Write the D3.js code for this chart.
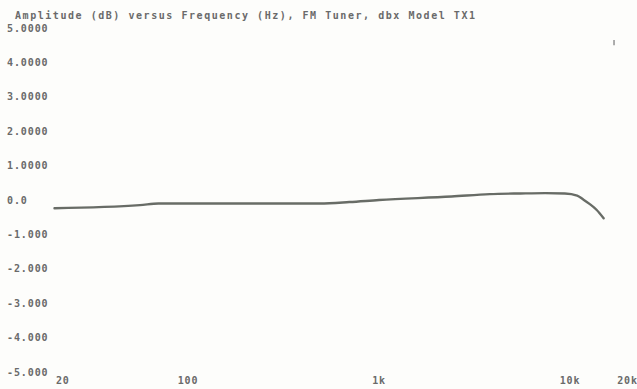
<!DOCTYPE html>
<html><head><meta charset="utf-8">
<script src="https://cdn.jsdelivr.net/npm/d3@7"></script>
<style>
html,body{margin:0;padding:0;background:#fdfdfb;}
text{font-family:"DejaVu Sans Mono",monospace;font-weight:bold;fill:#6a6a6a;}
</style></head>
<body><svg id="c" width="637" height="389"></svg>
<script>
const title = "Amplitude (dB) versus Frequency (Hz), FM Tuner, dbx Model TX1";
const freqs = [20, 56, 70, 190, 390, 490, 700, 1000, 2400, 3800, 5500, 7400, 9400, 10900, 11700, 12700, 13800, 15000];
const dB    = [-0.24, -0.15, -0.10, -0.10, -0.10, -0.10, -0.06, 0.0, 0.10, 0.17, 0.19, 0.20, 0.19, 0.13, 0.02, -0.12, -0.29, -0.53];
const yTickValues = [5, 4, 3, 2, 1, 0, -1, -2, -3, -4, -5];
const yTickLabels = ["5.0000", "4.0000", "3.0000", "2.0000", "1.0000", "0.0", "-1.000", "-2.000", "-3.000", "-4.000", "-5.000"];
const xTickValues = [20, 100, 1000, 10000, 20000];
const xTickLabels = ["20", "100", "1k", "10k", "20k"];

const svg = d3.select("#c");
const x = d3.scaleLog().domain([20, 20000]).range([54.5, 627.5]);
const y = d3.scaleLinear().domain([-5, 5]).range([372, 28]);

svg.append("text").attr("x", 15).attr("y", 19)
  .attr("font-size", 10).attr("textLength", 460).attr("lengthAdjust", "spacing")
  .text(title);

svg.append("g").selectAll("text").data(yTickValues).join("text")
  .attr("x", 7).attr("y", d => y(d)).attr("dy", "0.35em")
  .attr("font-size", 10).attr("letter-spacing", 0.9)
  .text((d, i) => yTickLabels[i]);

svg.append("g").selectAll("text").data(xTickValues).join("text")
  .attr("x", d => x(d) + (d === 20 ? 1.5 : 0)).attr("y", 384)
  .attr("text-anchor", d => d === 20 ? "start" : "middle")
  .attr("font-size", 10).attr("letter-spacing", 0.8)
  .text((d, i) => xTickLabels[i]);

const pts = freqs.map((f, i) => [f, dB[i]]);
svg.append("path").datum(pts)
  .attr("fill", "none").attr("stroke", "#686c66").attr("stroke-width", 2.4)
  .attr("stroke-linecap", "round")
  .attr("d", d3.line().x(d => x(d[0])).y(d => y(d[1])).curve(d3.curveMonotoneX));

svg.append("line").attr("x1", x(17000)).attr("x2", x(17000))
  .attr("y1", y(4.65)).attr("y2", y(4.5))
  .attr("stroke", "#777").attr("stroke-width", 1.2);
</script></body></html>
